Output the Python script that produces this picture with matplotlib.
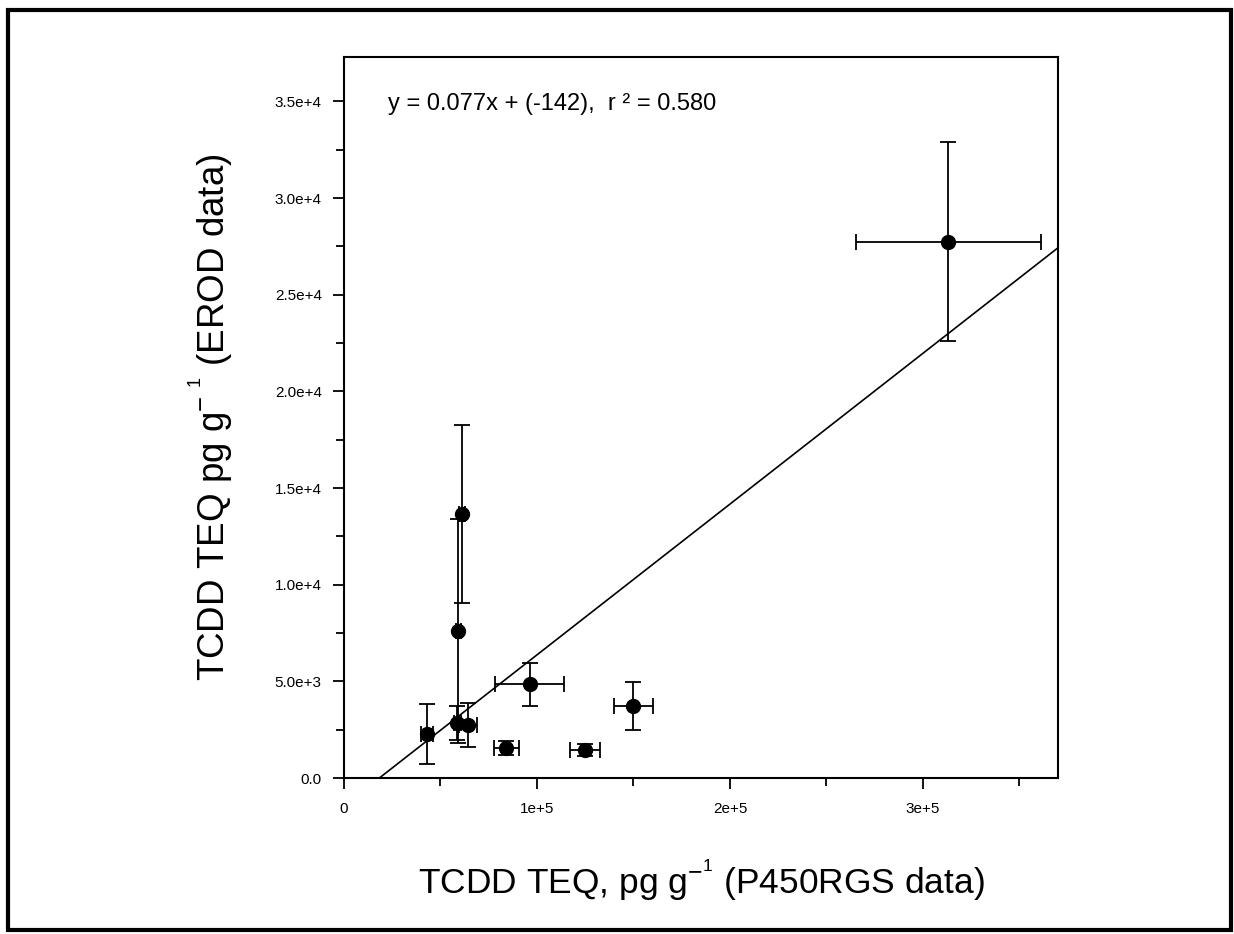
import numpy as np
import matplotlib
matplotlib.use("Agg")
import matplotlib.pyplot as plt
from matplotlib.patches import Rectangle

plt.rcParams['font.family'] = ['Liberation Sans', 'DejaVu Sans']
plt.rcParams['mathtext.fontset'] = 'custom'
plt.rcParams['mathtext.rm'] = 'Liberation Sans'
plt.rcParams['mathtext.default'] = 'regular'

# P450RGS (x) vs EROD (y) TEQ, with errors
x = [42800, 58800, 64300, 59300, 61000, 84200, 96200, 124800, 149900, 313100]
y = [2260, 2850, 2740, 7600, 13640, 1570, 4850, 1450, 3720, 27750]
xerr = [3100, 2000, 4700, 1500, 1500, 6500, 17700, 7900, 10100, 47900]
yerr = [1550, 900, 1150, 5800, 4600, 370, 1100, 300, 1260, 5130]

# regression line as drawn
fit_slope = 0.078
fit_intercept = -1430
eq_text = "y = 0.077x + (-142),  r ² = 0.580"

xmax, ymax = 370000, 37300
yticks = [0, 5000, 10000, 15000, 20000, 25000, 30000, 35000]
ytick_labels = ["0.0", "5.0e+3", "1.0e+4", "1.5e+4", "2.0e+4", "2.5e+4", "3.0e+4", "3.5e+4"]
xticks = [0, 100000, 200000, 300000]
xtick_labels = ["0", "1e+5", "2e+5", "3e+5"]

fig = plt.figure(figsize=(12.34, 9.34), dpi=100)
ax = fig.add_axes([344/1234, 156/934, 714/1234, 721/934])

ax.errorbar(x, y, xerr=xerr, yerr=yerr, fmt='o', color='black', ms=10,
            elinewidth=1.3, capsize=6, capthick=1.3)

lx = np.array([-fit_intercept / fit_slope, xmax])
ax.plot(lx, fit_slope * lx + fit_intercept, color='black', lw=1.2)

ax.set_xlim(0, xmax)
ax.set_ylim(0, ymax)
ax.set_xticks(xticks, xtick_labels)
ax.set_yticks(yticks, ytick_labels)
ax.set_xticks(np.arange(50000, xmax, 100000), minor=True)
ax.set_yticks(np.arange(2500, ymax, 5000), minor=True)
ax.tick_params(which='major', direction='out', length=8, width=1.3, labelsize=11)
ax.tick_params(which='minor', direction='out', length=6, width=1.3)
ax.tick_params(axis='x', pad=9)
ax.tick_params(axis='y', pad=8)
for s in ax.spines.values():
    s.set_linewidth(1.5)

ax.text(0.062, 0.935, eq_text, transform=ax.transAxes, fontsize=17, va='center')

ax.set_xlabel("TCDD TEQ, pg g$^{{-}^{1}}$ (P450RGS data)", fontsize=25.5, labelpad=30)
ax.set_ylabel("TCDD TEQ pg g$^{{-}\\ ^{1}}$ (EROD data)", fontsize=26.5, labelpad=28)

fig.patches.append(Rectangle((8/1234, 4/934), 1223/1234, 920/934, transform=fig.transFigure,
                             fill=False, lw=3, color='black'))

fig.savefig("out.png", dpi=100)
